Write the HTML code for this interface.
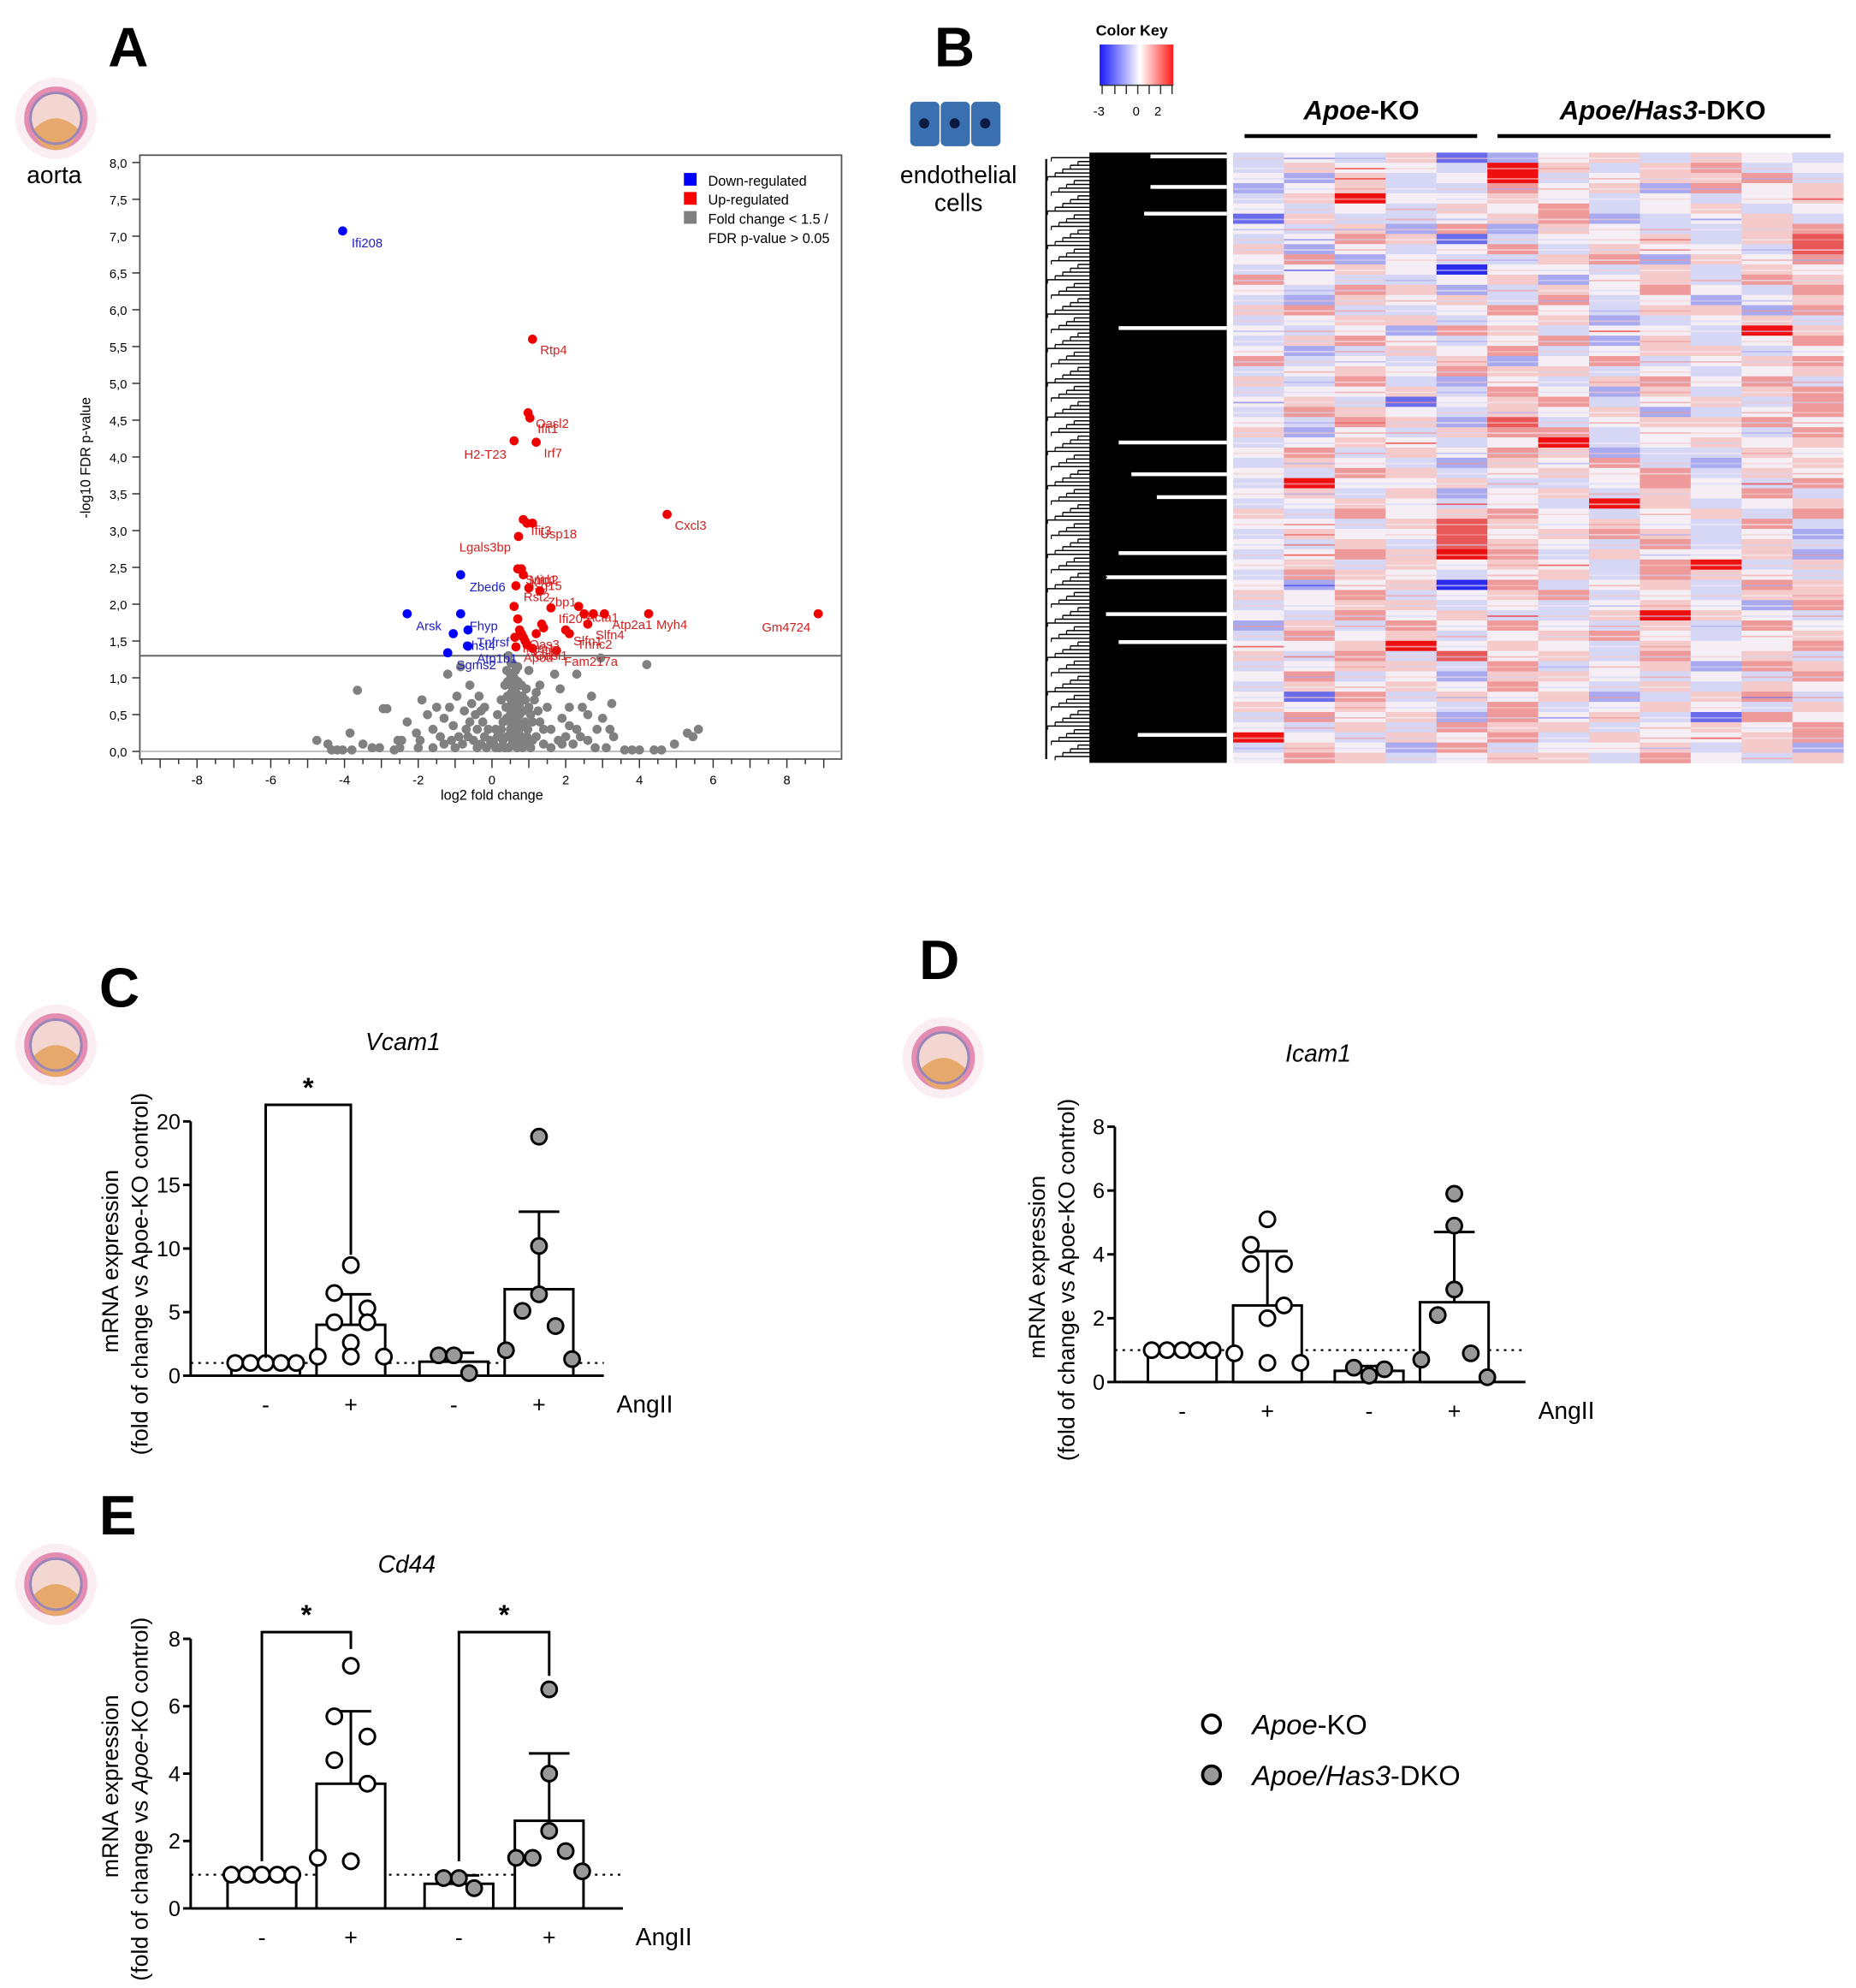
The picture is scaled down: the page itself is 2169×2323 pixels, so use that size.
<!DOCTYPE html>
<html><head><meta charset="utf-8">
<style>
html,body{margin:0;padding:0;background:#fff;}
svg{display:block;font-family:"Liberation Sans",sans-serif;}
</style></head>
<body>
<svg id="fig" width="2169" height="2323" viewBox="0 0 1460 1563.6" xmlns="http://www.w3.org/2000/svg">
<defs>
<linearGradient id="ck" x1="0" x2="1" y1="0" y2="0"><stop offset="0" stop-color="#1a1aff"/><stop offset="0.55" stop-color="#ffffff"/><stop offset="1" stop-color="#ff1a1a"/></linearGradient>
<g id="aorta"><circle r="32" fill="#fbeef2"/><circle r="25" fill="#e58cb3"/><circle r="20" fill="#f4d6d0"/><path d="M-17,8 A17,17 0 0 0 17,8 Q0,-8 -17,8Z" fill="#e6a96b"/><circle r="20" fill="none" stroke="#9a86b8" stroke-width="2"/></g>
</defs>
<g id="panelA">
<text x="85" y="52" font-size="44" font-weight="bold">A</text>
<use href="#aorta" x="44" y="93"/>
<text x="21" y="144" font-size="19">aorta</text>
<rect x="110" y="122" width="552" height="475" fill="none" stroke="#555" stroke-width="1.2"/>
<g id="vol"></g>
<g font-size="11">
<rect x="538" y="136" width="10" height="10" fill="#0000ff"/><text x="557" y="146">Down-regulated</text>
<rect x="538" y="151" width="10" height="10" fill="#ff0000"/><text x="557" y="161">Up-regulated</text>
<rect x="538" y="166" width="10" height="10" fill="#808080"/><text x="557" y="176">Fold change &lt; 1.5 /</text><text x="557" y="191">FDR p-value &gt; 0.05</text>
</g>
<text x="387" y="629" font-size="11" text-anchor="middle">log2 fold change</text>
<text transform="translate(71,360) rotate(-90)" font-size="11" text-anchor="middle">-log10 FDR p-value</text>
</g>
<g id="panelB">
<text x="735" y="52" font-size="44" font-weight="bold">B</text>
<g>
<rect x="716" y="80" width="23" height="35" rx="4" fill="#3a6fb0"/><rect x="740" y="80" width="23" height="35" rx="4" fill="#3a6fb0"/><rect x="764" y="80" width="23" height="35" rx="4" fill="#3a6fb0"/>
<circle cx="727" cy="97" r="4" fill="#0a1a40"/><circle cx="751" cy="97" r="4" fill="#0a1a40"/><circle cx="775" cy="97" r="4" fill="#0a1a40"/>
</g>
<text x="754" y="144" font-size="19" text-anchor="middle">endothelial</text>
<text x="754" y="166" font-size="19" text-anchor="middle">cells</text>
<text x="862" y="28" font-size="12" font-weight="bold">Color Key</text>
<rect x="865" y="35" width="58" height="32" fill="url(#ck)"/>
<g stroke="#333" stroke-width="1"><line x1="865" y1="67" x2="923" y2="67"/><line x1="867" y1="67" x2="867" y2="74"/><line x1="877" y1="67" x2="877" y2="74"/><line x1="886" y1="67" x2="886" y2="74"/><line x1="895" y1="67" x2="895" y2="74"/><line x1="904" y1="67" x2="904" y2="74"/><line x1="913" y1="67" x2="913" y2="74"/><line x1="922" y1="67" x2="922" y2="74"/></g>
<text x="860" y="91" font-size="10">-3</text><text x="891" y="91" font-size="10">0</text><text x="908" y="91" font-size="10">2</text>
<text x="1071" y="94" font-size="21" font-weight="bold" text-anchor="middle"><tspan font-style="italic">Apoe</tspan>-KO</text>
<text x="1308" y="94" font-size="21" font-weight="bold" text-anchor="middle"><tspan font-style="italic">Apoe/Has3</tspan>-DKO</text>
<line x1="979" y1="107" x2="1162" y2="107" stroke="#000" stroke-width="3"/>
<line x1="1178" y1="107" x2="1440" y2="107" stroke="#000" stroke-width="3"/>
<g id="dendro"></g>
<g id="heat"></g>
</g>
<g id="panelC"></g><g id="panelD"></g><g id="panelE"></g>
<g>
<circle cx="953" cy="1356" r="7" fill="#fff" stroke="#000" stroke-width="2.5"/>
<text x="985" y="1364" font-size="22"><tspan font-style="italic">Apoe</tspan>-KO</text>
<circle cx="953" cy="1396" r="7" fill="#999" stroke="#000" stroke-width="2.5"/>
<text x="985" y="1404" font-size="22"><tspan font-style="italic">Apoe/Has3</tspan>-DKO</text>
</g>
</svg>
<script>
const NS="http://www.w3.org/2000/svg";
function mk(p,t,a){const e=document.createElementNS(NS,t);for(const k in a)e.setAttribute(k,a[k]);p.appendChild(e);return e;}
// ---------- Volcano data ----------
const greyPts=[[-4.75,0.15],[-4.45,0.1],[-4.35,0.02],[-4.2,0.02],[-4.05,0.02],[-3.85,0.25],[-3.65,0.83],[-3.5,0.1],[-3.25,0.05],[-3.05,0.05],[-2.95,0.58],[-2.85,0.58],[-2.65,0.02],[-2.55,0.15],[-2.45,0.15],[-2.3,0.4],[-2.05,0.25],[-1.95,0.15],[-1.9,0.7],[-1.75,0.5],[-1.6,0.3],[-1.5,0.6],[-1.4,0.2],[-1.3,0.45],[-1.2,1.05],[-1.15,0.6],[-1.05,0.35],[-0.95,0.75],[-0.9,0.2],[-0.85,1.15],[-0.75,0.55],[-0.7,0.3],[-0.6,0.9],[-0.55,0.65],[-0.5,0.15],[-0.45,0.5],[-0.4,0.3],[-0.35,0.75],[-0.3,0.1],[-0.25,0.4],[-0.2,0.2],[-0.15,0.05],[-0.1,0.3],[0.05,0.1],[0.1,0.3],[0.15,0.5],[0.2,0.2],[0.25,0.7],[0.3,0.4],[0.35,0.9],[0.4,0.2],[0.4,1.1],[0.45,0.6],[0.45,1.3],[0.5,0.3],[0.5,0.9],[0.55,0.1],[0.55,1.2],[0.6,0.5],[0.6,1.0],[0.65,0.2],[0.65,0.8],[0.7,0.4],[0.7,1.15],[0.75,0.65],[0.75,0.1],[0.8,0.9],[0.85,0.35],[0.9,0.7],[0.95,0.2],[1.0,1.1],[1.05,0.5],[1.1,0.15],[1.2,0.8],[1.3,0.4],[1.4,0.1],[1.5,0.6],[1.6,0.3],[1.7,1.05],[1.8,0.15],[1.9,0.45],[2.0,0.2],[2.1,0.6],[2.2,0.1],[2.3,1.05],[2.45,0.6],[2.6,0.15],[2.7,0.75],[2.85,0.3],[2.95,1.27],[3.1,0.05],[3.25,0.65],[3.6,0.02],[3.8,0.02],[4.0,0.02],[4.2,1.18],[4.4,0.02],[4.6,0.02],[4.95,0.1],[5.3,0.25],[5.45,0.2],[5.6,0.3],[0.5,0.6],[0.6,0.75],[0.7,0.25],[0.55,0.45],[0.65,0.35],[0.45,0.05],[0.75,0.5],[0.5,1.05],[0.6,0.15],[0.7,0.95],[0.8,0.55],[-0.6,0.4],[-0.8,0.1],[-1.0,0.05],[-1.3,0.1],[-0.3,0.55],[-2.5,0.05],[-3.8,0.02],[1.3,0.9],[1.85,0.85],[2.3,0.3],[2.6,0.5],[0.52,0.7],[0.62,0.55],[0.58,0.85],[0.68,0.6],[0.48,0.4],[0.72,0.75],
[0.35,0.05],[0.4,0.45],[0.42,0.75],[0.47,0.2],[0.5,0.5],[0.52,1.2],[0.55,0.3],[0.57,0.65],[0.6,0.95],[0.62,0.3],[0.64,1.1],[0.66,0.5],[0.68,0.05],[0.7,0.7],[0.72,0.15],[0.74,0.9],[0.77,0.35],[0.8,0.2],[0.82,0.75],[0.85,0.55],[0.88,0.1],[0.9,0.4],[0.93,0.85],[0.97,0.3],[1.0,0.6],[1.05,0.05],[1.1,0.4],[1.15,0.7],[1.2,0.2],[1.25,0.55],[0.3,0.15],[0.25,0.3],[0.2,0.05],[0.15,0.2],[0.1,0.05],[-0.05,0.15],[0.38,0.6],[0.43,0.95],[0.53,0.8],[0.63,0.65],[0.73,0.3],[0.83,0.05],[-0.2,0.6],[-0.4,0.05],[-0.65,0.2],[-1.1,0.15],[-1.6,0.05],[-2.0,0.05],[1.4,0.3],[1.6,0.05],[1.9,0.1],[2.1,0.35],[2.4,0.2],[2.8,0.05],[3.0,0.45],[3.3,0.2],[3.2,0.3]];
const downX=[-4.05,-0.85,-2.3,-0.85,-1.05,-0.65,-0.65,-1.2];
const downY=[7.07,2.4,1.87,1.87,1.6,1.65,1.43,1.34];
const downLbl=["Ifi208","Zbed6","Arsk","Fhyp","Chst4","Tnfrsf","Atp1b1","Sgms2"];
const upX=[1.1,0.98,1.03,0.6,1.2,0.85,0.95,1.1,0.72,4.75,8.85,4.25,2.35,3.05,2.6,0.7,0.8,0.85,1.3,0.65,1.0,1.6,2.5,2.75,2.1,1.75,0.6,0.7,0.8,0.9,1.35,1.4,0.62,0.75,0.95,1.1,1.2,0.65,0.85,2.0];
const upY=[5.6,4.6,4.53,4.22,4.2,3.15,3.1,3.1,2.92,3.22,1.87,1.87,1.97,1.87,1.73,2.48,2.48,2.4,2.18,2.25,2.22,1.95,1.87,1.87,1.6,1.37,1.97,1.8,1.6,1.5,1.73,1.68,1.55,1.65,1.45,1.4,1.6,1.42,1.55,1.65];
const upLbl=["Rtp4","Oasl2","Ifit1","H2-T23","Irf7","Ifit3","","Usp18","Lgals3bp","Cxcl3","Gm4724","Myh4","Acta1","Atp2a1","Slfn4","Sntg2","Mid1","Isg15","Zbp1","Rst2","","Ifi205","","","Tnnc2","Fam217a","","","Oas3","Cst1","","","Irgm1","","Oasl1","","","Apod","","Slfn1"];
const xTicks=[-8,-6,-4,-2,0,2,4,6,8];
const yTicks=[0,0.5,1,1.5,2,2.5,3,3.5,4,4.5,5,5.5,6,6.5,7,7.5,8];
const sigLine=1.3;
(function(){
 const g=document.getElementById('vol');
 const sx=v=>387+v*29, sy=v=>591-v*57.9;
 mk(g,'line',{x1:110,x2:662,y1:sy(0),y2:sy(0),stroke:'#aaa','stroke-width':1});
 mk(g,'line',{x1:110,x2:662,y1:sy(sigLine),y2:sy(sigLine),stroke:'#666','stroke-width':1.3});
 for(const t of yTicks){
  mk(g,'line',{x1:104,x2:110,y1:sy(t),y2:sy(t),stroke:'#333'});
  const tx=mk(g,'text',{x:100,y:sy(t)+4,'font-size':10,'text-anchor':'end'});tx.textContent=t.toFixed(1).replace('.',',');
  
  
 }
 for(let v=-9.5;v<=9.5;v+=0.5){const x=sx(v);if(x<110||x>662)continue;mk(g,'line',{x1:x,x2:x,y1:597,y2:Number.isInteger(v)?604:601,stroke:'#333'});}
 for(const t of xTicks){const tx=mk(g,'text',{x:sx(t),y:617,'font-size':10,'text-anchor':'middle'});tx.textContent=t;
  
  }
 for(const p of greyPts){const c=mk(g,'circle',{cx:sx(p[0]),cy:sy(p[1]),r:3.6,fill:'#808080'});
  
  }
 downX.forEach((x,i)=>{const c=mk(g,'circle',{cx:sx(x),cy:sy(downY[i]),r:3.6,fill:'#0000ff'});
  
  
  if(downLbl[i]){const t=mk(g,'text',{x:sx(x)+7,y:sy(downY[i])+13,'font-size':10,fill:'#2020c0'});t.textContent=downLbl[i];}});
 upX.forEach((x,i)=>{const c=mk(g,'circle',{cx:sx(x),cy:sy(upY[i]),r:3.6,fill:'#ee0000'});
  
  
  if(upLbl[i]){const left=(upLbl[i]=="Gm4724"||upLbl[i]=="H2-T23"||upLbl[i]=="Lgals3bp");
   const t=mk(g,'text',{x:left?sx(x)-6:sx(x)+6,y:sy(upY[i])+(left&&upLbl[i]!="Lgals3bp"?14:12),'font-size':10,fill:'#d02020','text-anchor':left?'end':'start'});t.textContent=upLbl[i];}});
})();
// ---------- Heatmap ----------
const heatRows=["343512453543","354438535634","425348345563","245336452645","358445434345","434354634534","153345623453","435262543356","346513445357","524346354437","462433562546","345404435354","643345245365","436523546436","325453634245","563346435526","345534523453","434265344385","356434625346","423546345534","634352463456","345465534345","536324356463","344536425356","453145634536","365435452346","436527345564","524356634436","345434834545","463546523354","354325463245","436534546354","384453346436","453524535463","345434385345","536456434536","443575454363","354474565342","435375436353","346586354452","453545436835","365434536543","424506345365","546345634355","345534345426","436453358543","253646435364","364534564345","445845435446","536374536453","345536345265","463425543436","354546435354","416354523563","545436345435","364526453164","435365534546","843546354456","354263445352","465345536435"];
const heatColors=["#2a2aee","#6a6aec","#a9a9f0","#d6d6f5","#f5eff5","#f4caca","#ee9a9a","#e85858","#ee1010"];
(function(){
 const g=document.getElementById('heat');const x0=970,w=40,y0=120,h=480/heatRows.length;
 heatRows.forEach((r,i)=>{for(let j=0;j<r.length;j++){
  const c=mk(g,'rect',{x:x0+j*w,y:y0+i*h,width:w+0.3,height:h+0.3,fill:heatColors[+r[j]]});
  
  
  mk(g,'rect',{x:x0+j*w,y:y0+i*h+h/2,width:w,height:1.2,fill:heatColors[Math.max(0,Math.min(8,+r[(j+3)%12]))],opacity:0.6});
 }});
 const d=document.getElementById('dendro');
 mk(d,'rect',{x:857,y:120,width:108,height:480,fill:'#000'});
 const gaps=[123,147,168,258,348,373,391,435,454,483,505,578];
 const gapStart=[905,905,900,880,880,890,910,880,870,870,880,895];
 gaps.forEach((y,i)=>mk(d,'rect',{x:gapStart[i],y:y-1.5,width:965-gapStart[i],height:3,fill:'#fff'}));
 mk(d,'line',{x1:823,x2:823,y1:125,y2:597,stroke:'#000','stroke-width':1.5});
 for(let y=124;y<598;y+=3){const st=823+((y*7)%27);mk(d,'line',{x1:st,x2:857+((y*11)%20),y1:y,y2:y,stroke:'#000','stroke-width':1});
  mk(d,'line',{x1:st,x2:st,y1:y,y2:y+3,stroke:'#000','stroke-width':0.8});}
})();
// ---------- Bar charts ----------
const cTitle="Vcam1", cTicks=[0,5,10,15,20];
const cBars=[1,4.0,1.1,6.8], cErr=[1,6.4,1.8,12.9];
const cPts=[[1,1,1,1,1],[8.7,6.5,5.3,4.2,4.2,2.6,1.5,1.5,1.5],[1.6,1.6,0.2],[18.8,10.2,6.4,5.1,3.9,2.0,1.3]];
const dTitle="Icam1", dTicks=[0,2,4,6,8];
const dBars=[1,2.4,0.35,2.5], dErr=[1,4.1,0.5,4.7];
const dPts=[[1,1,1,1,1],[5.1,4.3,3.7,3.7,2.4,2.0,0.9,0.6,0.6],[0.45,0.2,0.4],[5.9,4.9,2.9,2.1,0.9,0.7,0.15]];
const eTitle="Cd44", eTicks=[0,2,4,6,8];
const eBars=[1,3.7,0.73,2.6], eErr=[1,5.85,0.98,4.6];
const ePts=[[1,1,1,1,1],[7.2,5.7,5.1,4.4,3.7,1.4,1.5,1.4],[0.9,0.9,0.6],[6.5,4.0,2.3,1.5,1.7,1.5,1.1]];
const groupSigns=["-","+","-","+"];
function barChart(id,name,letter,title,ticks,bars,err,pts,L){
 const g=document.getElementById(id);
 
 
 const sy=v=>L.y0-v*L.k;
 const lt=mk(g,'text',{x:L.lx,y:L.ly,'font-size':44,'font-weight':'bold'});lt.textContent=letter;
 mk(g,'use',{href:'#aorta',x:L.ix,y:L.iy});
 const tt=mk(g,'text',{x:L.tx,y:L.ty,'font-size':19,'font-style':'italic','text-anchor':'middle'});tt.textContent=title;
 
 
 const top=sy(ticks[ticks.length-1]);
 mk(g,'line',{x1:L.ax,x2:L.ax,y1:top,y2:L.y0,stroke:'#000','stroke-width':2});
 mk(g,'line',{x1:L.ax,x2:L.axEnd,y1:L.y0,y2:L.y0,stroke:'#000','stroke-width':2});
 ticks.forEach(t=>{mk(g,'line',{x1:L.ax-6,x2:L.ax,y1:sy(t),y2:sy(t),stroke:'#000','stroke-width':2});
  const tx=mk(g,'text',{x:L.ax-8,y:sy(t)+6,'font-size':17,'text-anchor':'end'});tx.textContent=t;
  
  });
 mk(g,'line',{x1:L.ax,x2:L.axEnd,y1:sy(1),y2:sy(1),stroke:'#000','stroke-width':1.5,'stroke-dasharray':'2,4'});
 const yl=mk(g,'text',{transform:`translate(${L.ytx},${(top+L.y0)/2+10}) rotate(-90)`,'font-size':18,'text-anchor':'middle'});
 yl.textContent="mRNA expression";
 
 
 const yl2=mk(g,'text',{transform:`translate(${L.ytx+23},${(top+L.y0)/2+20}) rotate(-90)`,'font-size':18,'text-anchor':'middle'});
 yl2.innerHTML=L.italicLabel?'(fold of change vs <tspan font-style="italic">Apoe</tspan>-KO control)':'(fold of change vs Apoe-KO control)';
 const offs=[[-24,-12,0,12,24],[0,-13,13,-13,13,0,-26,0,26],[-12,0,12],[0,0,0,-13,13,-26,26]];
 bars.forEach((b,i)=>{const cx=L.bx[i];
  const r=mk(g,'rect',{x:cx-27,y:sy(b),width:54,height:L.y0-sy(b),fill:'#fff',stroke:'#000','stroke-width':2});
  
  
  mk(g,'line',{x1:cx,x2:cx,y1:sy(b),y2:sy(err[i]),stroke:'#000','stroke-width':2});
  mk(g,'line',{x1:cx-16,x2:cx+16,y1:sy(err[i]),y2:sy(err[i]),stroke:'#000','stroke-width':2});
  const o=offs[i];
  pts[i].forEach((v,k)=>{const c=mk(g,'circle',{cx:cx+(o[k%o.length]||0),cy:sy(v),r:6,fill:i<2?'#fff':'#999',stroke:'#000','stroke-width':2});
   
   });
  const s=mk(g,'text',{x:cx,y:L.y0+29,'font-size':18,'text-anchor':'middle'});s.textContent=groupSigns[i];
 });
 const an=mk(g,'text',{x:L.axEnd+10,y:L.y0+29,'font-size':19});an.textContent="AngII";
 
 
 (L.sig||[]).forEach(s=>{const a=L.bx[s[0]],b=L.bx[s[1]],yy=sy(s[2]);
  mk(g,'polyline',{points:`${a},${sy(1.4)} ${a},${yy} ${b},${yy} ${b},${sy(s[3])}`,fill:'none',stroke:'#000','stroke-width':2});
  const st=mk(g,'text',{x:(a+b)/2,y:yy-6,'font-size':22,'font-weight':'bold','text-anchor':'middle'});st.textContent="*";
  
  });
}
barChart('panelC','vcam1-panel','C',cTitle,cTicks,cBars,cErr,cPts,{y0:1082,k:10,ax:150,axEnd:475,bx:[209,276,357,424],lx:78,ly:792,ix:44,iy:822,tx:317,ty:826,ytx:93,sig:[[0,1,21.3,9.5]]});
barChart('panelD','icam1-panel','D',dTitle,dTicks,dBars,dErr,dPts,{y0:1087,k:25.1,ax:877,axEnd:1200,bx:[930,997,1077,1144],lx:723,ly:770,ix:742,iy:832,tx:1037,ty:835,ytx:822});
barChart('panelE','cd44-panel','E',eTitle,eTicks,eBars,eErr,ePts,{y0:1501,k:26.5,ax:150,axEnd:490,bx:[206,276,361,432],lx:78,ly:1207,ix:44,iy:1246,tx:320,ty:1237,ytx:93,italicLabel:true,sig:[[0,1,8.2,7.7],[2,3,8.2,6.9]]});
</script>
</body></html>
